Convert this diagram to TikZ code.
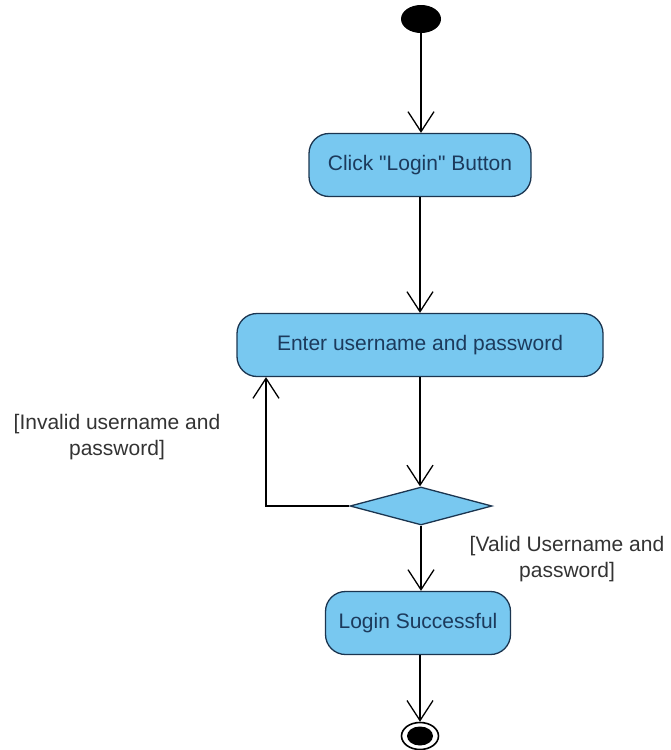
\documentclass[tikz,border=0pt]{standalone}
\usepackage{fontspec}
\setmainfont{Liberation Sans}[Ligatures=TeXOff]
\usetikzlibrary{arrows.meta,shapes.geometric,calc}
\definecolor{boxfill}{HTML}{78C8F0}
\definecolor{boxdraw}{HTML}{1B3550}
\definecolor{boxtext}{HTML}{1C3A5C}
\definecolor{lblcol}{HTML}{333333}
\begin{document}
\begin{tikzpicture}[x=1pt,y=-1pt,
  act/.style={draw=boxdraw, line width=1.3pt, fill=boxfill, rounded corners=20pt,
    minimum height=63pt, text=boxtext, font=\fontsize{21}{25}\selectfont, inner sep=0pt},
  dec/.style={diamond, draw=boxdraw, line width=1.3pt, fill=boxfill,
    minimum width=142pt, minimum height=38pt, inner sep=0pt},
  arr/.style={draw=black, line width=1.3pt, -{Straight Barb[length=20pt,width=26pt]}},
  guard/.style={text=lblcol, align=center, font=\fontsize{21}{26}\selectfont, inner sep=0pt}]
\useasboundingbox (0,0) rectangle (670,750);
% initial node
\node (start) [ellipse, fill=black, minimum width=40pt, minimum height=28pt, inner sep=0pt] at (421,19) {};
% actions
\node[act, minimum width=222pt] (b1) at (420,165) {Click "Login" Button};
\node[act, minimum width=366pt] (b2) at (420,345) {Enter username and password};
\node[dec] (d) at (421,506) {};
\node[act, minimum width=185pt] (b3) at (418,623) {Login Successful};
% final node
\node (endn) [ellipse, draw=black, line width=1.6pt, minimum width=37pt, minimum height=27pt, inner sep=0pt] at (420,736) {};
\node (endin) [ellipse, fill=black, minimum width=26pt, minimum height=19pt, inner sep=0pt] at (endn.center) {};
% connectors
\draw[arr] (start.south) -- (start.south |- b1.north);
\draw[arr] (b1.south) -- (b1.south |- b2.north);
\draw[arr] (b2.south) -- (b2.south |- d.north);
\draw[arr] (d.south) -- (d.south |- b3.north);
\draw[arr] (b3.south -| endn) -- (endn.north);
\coordinate (lp) at (266,506);
\draw[arr] (d.west) -- (lp) -- (lp |- b2.south);
% guards
\node[guard] (ginv) at (117,437) {[Invalid username and\\password]};
\node[guard] (gval) at (567,559) {[Valid Username and\\password]};
\end{tikzpicture}
\end{document}
